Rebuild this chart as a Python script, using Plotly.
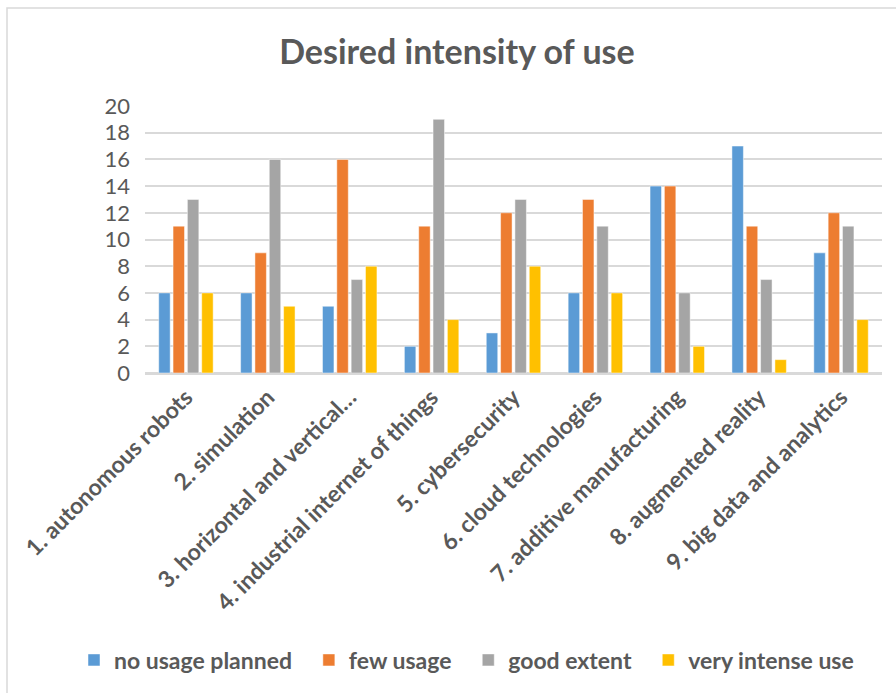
import plotly.graph_objects as go

categories = [
    "1. autonomous robots",
    "2. simulation",
    "3. horizontal and vertical…",
    "4. industrial internet of things",
    "5. cybersecurity",
    "6. cloud technologies",
    "7. additive manufacturing",
    "8. augmented reality",
    "9. big data and analytics",
]
no_usage_planned = [6, 6, 5, 2, 3, 6, 14, 17, 9]
few_usage = [11, 9, 16, 11, 12, 13, 14, 11, 12]
good_extent = [13, 16, 7, 19, 13, 11, 6, 7, 11]
very_intense_use = [6, 5, 8, 4, 8, 6, 2, 1, 4]

series = [
    ("no usage planned", no_usage_planned, "#5B9BD5"),
    ("few usage", few_usage, "#ED7D31"),
    ("good extent", good_extent, "#A5A5A5"),
    ("very intense use", very_intense_use, "#FFC000"),
]

FONT = "Lato"
TEXT = "#595959"
PAD = "\u00a0" * 2  # extra room between legend entries

fig = go.Figure()
for name, vals, color in series:
    fig.add_trace(go.Bar(
        x=categories, y=vals, name=f"<b>{name}</b>{PAD}",
        marker=dict(color=color, line=dict(color="rgba(255,255,255,0.6)", width=0.8)),
    ))

W, H = 896, 693
L, R, T, B = 145, 14, 106, 320
pw, ph = W - L - R, H - T - B

def px_x(x):
    return (x - L) / pw

def px_y(y):
    return (H - B - y) / ph

fig.update_layout(
    width=W, height=H,
    margin=dict(l=L, r=R, t=T, b=B),
    paper_bgcolor="white", plot_bgcolor="white",
    barmode="group", bargap=0.3, bargroupgap=0.2,
    font=dict(family=FONT, color=TEXT),
    title=dict(
        text="<b>Desired intensity of use</b>",
        x=0.51, xanchor="center", y=1 - 52 / H, yanchor="middle",
        font=dict(size=34, color=TEXT, family=FONT),
    ),
    xaxis=dict(
        tickangle=-45, tickfont=dict(size=23, color=TEXT, family=FONT),
        showgrid=False, showline=True, linecolor="#d9d9d9", linewidth=1.5,
        ticks="", tickprefix="<b>", ticksuffix="</b>",
    ),
    yaxis=dict(
        range=[0, 20], dtick=2, tickfont=dict(size=22, color=TEXT, family=FONT),
        showgrid=True, gridcolor="#d9d9d9", gridwidth=1.5,
        zeroline=True, zerolinecolor="#d9d9d9", zerolinewidth=1.5,
        showline=False, ticks="", ticklabelstandoff=14,
    ),
    legend=dict(
        orientation="h", x=px_x(74), xanchor="left", y=px_y(660), yanchor="middle",
        font=dict(size=23, color=TEXT, family=FONT), itemwidth=30,
        traceorder="normal",
    ),
    shapes=[dict(
        type="rect", xref="paper", yref="paper",
        x0=px_x(7), x1=px_x(W + 20), y0=px_y(H + 20), y1=px_y(8),
        line=dict(color="#d9d9d9", width=1.5), fillcolor="rgba(0,0,0,0)", layer="below",
    )],
)

fig.write_html("out.html")
